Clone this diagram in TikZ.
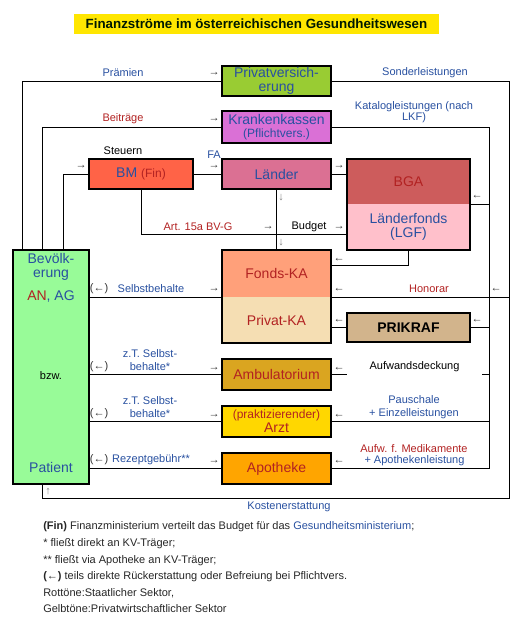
\documentclass[tikz,border=0pt]{standalone}
\usepackage{fontspec}
\setmainfont{Liberation Sans}
\definecolor{tblue}{HTML}{2850A0}
\definecolor{tred}{HTML}{B22222}
\definecolor{titleyellow}{HTML}{FFE600}
\definecolor{cpv}{HTML}{99CC33}
\definecolor{ckk}{HTML}{DA70D6}
\definecolor{cbm}{HTML}{FF6347}
\definecolor{cla}{HTML}{DB7093}
\definecolor{cbga}{HTML}{CD5C5C}
\definecolor{clgf}{HTML}{FFC0CB}
\definecolor{cfka}{HTML}{FFA07A}
\definecolor{cpka}{HTML}{F5DEB3}
\definecolor{cprik}{HTML}{D2B48C}
\definecolor{cbev}{HTML}{98FB98}
\definecolor{camb}{HTML}{DAA520}
\definecolor{carzt}{HTML}{FFD700}
\definecolor{capo}{HTML}{FFA500}
\definecolor{arrcol}{HTML}{333333}
\tikzset{
  sz/.style 2 args={minimum width=#1*0.75pt, minimum height=#2*0.75pt},
  big/.style={font=\fontsize{10.5}{10.5}\selectfont},
  box/.style={draw=black, line width=1.8pt, inner sep=0pt, align=center, big, text=tblue},
  part/.style={inner sep=0pt, align=center, big, text=tblue},
  conn/.style={line width=0.75pt, draw=black},
  lbl/.style={font=\fontsize{8.25}{9.75}\selectfont, inner sep=0pt, align=center},
  arr/.style={font=\fontsize{8.25}{9}\selectfont, inner sep=0pt, text=arrcol},
  legend/.style={font=\fontsize{8.25}{9.75}\selectfont, inner sep=0pt, anchor=west, text=black!85},
}
\begin{document}
\begin{tikzpicture}[x=0.75pt,y=-0.75pt]
\useasboundingbox (0,0) rectangle (522,625);

% title
\node[fill=titleyellow, sz={365}{20}, inner sep=0pt, font=\bfseries\fontsize{10}{12}\selectfont, text=black!90!green] (title) at (256.5,24) {Finanzströme im österreichischen Gesundheitswesen};

% boxes
\node[box, fill=cpv, sz={109}{30}, font=\fontsize{10.5}{10}\selectfont] (pv) at (276.5,81) {Privatversich-\\erung};
\node[box, fill=ckk, sz={109}{32}, font=\fontsize{10.5}{10}\selectfont] (kk) at (276.5,127) {Krankenkassen\\\fontsize{9}{10}\selectfont(Pflichtvers.)};
\node[box, fill=cbm, sz={104}{30}] (bm) at (141,174) {BM \textcolor{tred}{\fontsize{9}{10}\selectfont(Fin)}};
\node[box, fill=cla, sz={109}{30}] (la) at (276.5,174) {Länder};

\node[part, fill=cbga, sz={123}{45}, text=tred] (bga) at (408.5,181.5) {BGA};
\node[part, fill=clgf, sz={123}{46}, font=\fontsize{10.5}{10}\selectfont] (lgf) at (408.5,227) {Länderfonds\\(LGF)};
\draw[line width=1.8pt] (bga.north west) rectangle (lgf.south east);

\node[part, fill=cfka, sz={109}{47}, text=tred] (fka) at (276.5,273.5) {Fonds-KA};
\node[part, fill=cpka, sz={109}{46}, text=tred] (pka) at (276.5,320) {Privat-KA};
\draw[line width=1.8pt] (fka.north west) rectangle (pka.south east);

\node[box, fill=cprik, sz={123}{29}, text=black, font=\bfseries\fontsize{10.5}{12}\selectfont] (prik) at (408.5,327.5) {PRIKRAF};

\node[box, fill=cbev, sz={76}{234}] (bev) at (51,367) {};
\node[part, font=\fontsize{10.5}{10.5}\selectfont] (bev1) at (51,267) {Bevölk-\\erung};
\node[part] (bev2) at (51,297) {\textcolor{tred}{AN}, AG};
\node[lbl, text=black] (bev3) at (51,376) {bzw.};
\node[part] (bev4) at (51,467) {Patient};

\node[box, fill=camb, sz={109}{31}, text=tred] (amb) at (276.5,374.5) {Ambulatorium};
\node[box, fill=carzt, sz={109}{31}, text=tred] (arzt) at (276.5,421.5) {\fontsize{9}{9.75}\selectfont(praktizierender)\\\fontsize{10.5}{9.75}\selectfont Arzt};
\node[box, fill=capo, sz={109}{31}, text=tred] (apo) at (276.5,468.5) {Apotheke};

% helper coordinates
\coordinate (xa) at (22,0);
\coordinate (xb) at (42,0);
\coordinate (xc) at (63,0);
\coordinate (xr1) at (509,0);
\coordinate (xr2) at (489,0);
\coordinate (botR) at (509,498);
\coordinate (a15) at (347,234);
\coordinate (fkin) at (331,265);

% connectors
\draw[conn] (bev.north -| xa) |- (pv.west);
\draw[conn] (pv.east) -| (botR) -| (bev.south -| xb);
\draw[conn] (bev.north -| xb) |- (kk.west);
\draw[conn] (kk.east) -| (apo.east -| xr2) -- (apo.east);
\draw[conn] (bev.north -| xc) |- (bm.west);
\draw[conn] (bm.east) -- (la.west);
\draw[conn] (la.east) -- (la.east -| lgf.west);
\draw[conn] (bm.south) |- (a15);
\draw[conn] (la.south) -- (fka.north);
\draw[conn] (lgf.south) |- (fkin);
\draw[conn] (bga.south east) -- (bga.south east -| xr2);
\draw[conn] (fka.south east) -- (fka.south east -| xr1);
\draw[conn] (prik.east) -- (prik.east -| xr2);
\draw[conn] (prik.west) -- (prik.west -| pka.east);
\draw[conn] (amb.east) -- (amb.east -| xr2);
\draw[conn] (arzt.east) -- (arzt.east -| xr2);
\draw[conn] (fka.south west -| bev.east) -- (fka.south west);
\draw[conn] (amb.west -| bev.east) -- (amb.west);
\draw[conn] (arzt.west -| bev.east) -- (arzt.west);
\draw[conn] (apo.west -| bev.east) -- (apo.west);

% labels top
\node[lbl, text=tblue] (l1) at (123,73) {Prämien};
\node[arr] (a1) at (214,74) {→};
\node[lbl, text=tblue] (l2) at (425,73) {Sonderleistungen};
\node[lbl, text=tred] (l3) at (123,119) {Beiträge};
\node[arr] (a2) at (214,120) {→};
\node[lbl, text=tblue, font=\fontsize{8.25}{8.25}\selectfont] (l4) at (414,112.5) {Katalogleistungen (nach\\LKF)};

\node[lbl, text=black] (l5) at (123,151) {Steuern};
\node[arr] (a3) at (81,167) {→};
\node[lbl, text=tblue] (l6) at (214,155) {FA};
\node[arr] (a4) at (214,167) {→};
\node[arr] (a5) at (339,167) {→};
\node[arr] (a6) at (477,197) {←};
\node[arr, text=gray] (a7) at (281,198) {↓};
\node[arr, text=gray] (a8) at (281,243) {↓};
\node[lbl, text=tred] (l7) at (198,227) {Art. 15a BV-G};
\node[arr] (a9) at (268,228) {→};
\node[lbl, text=black] (l8) at (309,227) {Budget};
\node[arr] (a10) at (339,228) {→};
\node[arr] (a11) at (339,260) {←};

% Selbstbehalte row
\node[arr] (a12) at (99,289) {(←)};
\node[lbl, text=tblue] (l9) at (151,289) {Selbstbehalte};
\node[arr] (a13) at (214,290) {→};
\node[arr] (a14) at (339,290) {←};
\node[lbl, text=tred] (l10) at (429,289) {Honorar};
\node[arr] (a15l) at (496,290) {←};
\node[arr] (a16) at (339,321) {←};
\node[arr] (a17) at (477,321) {←};

% Ambulatorium row
\node[arr] (a18) at (99,367) {(←)};
\node[lbl, text=tblue] (l11) at (150,360.5) {z.T. Selbst-\\behalte*};
\node[arr] (a19) at (214,369) {→};
\node[arr] (a20) at (339,369) {←};
\node[lbl, fill=white, sz={135}{16}, text=black] (l12) at (414.5,367) {Aufwandsdeckung};

% Arzt row
\node[arr] (a21) at (99,414) {(←)};
\node[lbl, text=tblue] (l13) at (150,407.5) {z.T. Selbst-\\behalte*};
\node[arr] (a22) at (214,416) {→};
\node[arr] (a23) at (339,416) {←};
\node[lbl, text=tblue] (l14) at (414,407.5) {Pauschale\\+ Einzelleistungen};

% Apotheke row
\node[arr] (a24) at (99,460) {(←)};
\node[lbl, text=tblue] (l15) at (151,460) {Rezeptgebühr**};
\node[arr] (a25) at (214,462) {→};
\node[arr] (a26) at (339,462) {←};
\node[lbl, text=tred] (l16) at (414,448.5) {Aufw. f. Medikamente};
\node[lbl, text=tblue] (l17) at (414.5,460.5) {+ Apothekenleistung};

\node[arr, text=gray] (a27) at (48,492) {↑};
\node[lbl, text=tblue] (l18) at (289,507) {Kostenerstattung};

% legend
\node[legend] (g1) at (43,527) {\textbf{(Fin)} Finanzministerium verteilt das Budget für das \textcolor{tblue}{Gesundheitsministerium};};
\node[legend] (g2) at (43,544) {* fließt direkt an KV-Träger;};
\node[legend] (g3) at (43,561) {** fließt via Apotheke an KV-Träger;};
\node[legend] (g4) at (43,577) {\textbf{(←)} teils direkte Rückerstattung oder Befreiung bei Pflichtvers.};
\node[legend] (g5) at (43,593) {Rottöne:Staatlicher Sektor,};
\node[legend] (g6) at (43,609) {Gelbtöne:Privatwirtschaftlicher Sektor};
\end{tikzpicture}
\end{document}
